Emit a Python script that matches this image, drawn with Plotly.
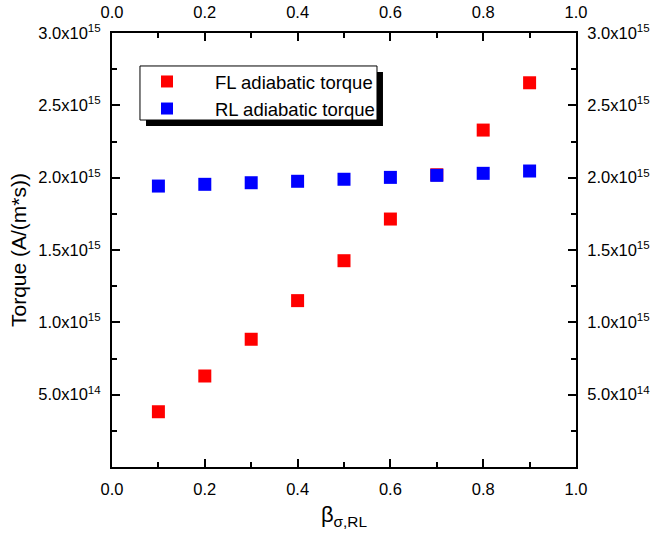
import plotly.graph_objects as go

beta = [0.1, 0.2, 0.3, 0.4, 0.5, 0.6, 0.7, 0.8, 0.9]
fl_torque = [0.382e15, 0.629e15, 0.883e15, 1.150e15, 1.426e15, 1.714e15, 2.020e15, 2.329e15, 2.656e15]
rl_torque = [1.942e15, 1.954e15, 1.965e15, 1.975e15, 1.989e15, 2.002e15, 2.016e15, 2.030e15, 2.046e15]

x_ticks = [0.0, 0.2, 0.4, 0.6, 0.8, 1.0]
x_ticktext = ["0.0", "0.2", "0.4", "0.6", "0.8", "1.0"]
y_ticks = [5e14, 1.0e15, 1.5e15, 2.0e15, 2.5e15, 3.0e15]
y_ticktext = ["5.0x10<sup>14</sup>", "1.0x10<sup>15</sup>", "1.5x10<sup>15</sup>",
              "2.0x10<sup>15</sup>", "2.5x10<sup>15</sup>", "3.0x10<sup>15</sup>"]
y_minor = [2.5e14, 7.5e14, 1.25e15, 1.75e15, 2.25e15, 2.75e15]
x_minor = [0.1, 0.3, 0.5, 0.7, 0.9]

FONT = "Arial, Liberation Sans, sans-serif"

fig = go.Figure()
fig.add_trace(go.Scatter(x=beta, y=fl_torque, mode="markers", name="FL adiabatic torque",
                         marker=dict(symbol="square", size=13, color="#ff0000",
                                     line=dict(width=0))))
fig.add_trace(go.Scatter(x=beta, y=rl_torque, mode="markers", name="RL adiabatic torque",
                         marker=dict(symbol="square", size=13, color="#0000ff",
                                     line=dict(width=0))))
fig.add_trace(go.Scatter(x=beta, y=rl_torque, mode="markers", xaxis="x2", yaxis="y2",
                         showlegend=False, hoverinfo="skip",
                         marker=dict(opacity=0)))

axis_common = dict(showline=True, linecolor="black", linewidth=2, mirror=False,
                   ticks="inside", ticklen=8, tickwidth=1.5, tickcolor="black",
                   showgrid=False, zeroline=False, automargin=False,
                   tickfont=dict(family=FONT, size=16.5, color="black"))

minor_x = dict(ticks="inside", ticklen=5, tickvals=x_minor, tickcolor="black", tickwidth=1.5)
minor_y = dict(ticks="inside", ticklen=5, tickvals=y_minor, tickcolor="black", tickwidth=1.5)

fig.update_layout(
    width=655, height=543,
    margin=dict(l=112, r=79, t=33, b=76),
    paper_bgcolor="white", plot_bgcolor="white",
    font=dict(family=FONT, color="black"),
    xaxis=dict(range=[0, 1], tickmode="array", tickvals=x_ticks, ticktext=x_ticktext,
               minor=minor_x,
               title=dict(text="β<sub>σ,RL</sub>", font=dict(family=FONT, size=22), standoff=10),
               ticklabelstandoff=6,
               **axis_common),
    yaxis=dict(range=[0, 3e15], tickmode="array", tickvals=y_ticks, ticktext=y_ticktext,
               minor=minor_y,
               title=dict(text="Torque (A/(m*s))", font=dict(family=FONT, size=21), standoff=6),
               ticklabelstandoff=6,
               **axis_common),
    xaxis2=dict(range=[0, 1], overlaying="x", side="top", anchor="y2",
                tickmode="array", tickvals=x_ticks, ticktext=x_ticktext,
                minor=minor_x, ticklabelstandoff=6,
                **axis_common),
    yaxis2=dict(range=[0, 3e15], overlaying="y", side="right", anchor="x2",
                tickmode="array", tickvals=y_ticks, ticktext=y_ticktext,
                minor=minor_y, ticklabelstandoff=6,
                **axis_common),
    legend=dict(x=0.0151, y=0.931, xanchor="left", yanchor="top",
                bgcolor="rgba(0,0,0,0)", borderwidth=0,
                font=dict(family=FONT, size=18.5, color="black"),
                itemwidth=86, itemsizing="constant"),
    shapes=[
        dict(type="rect", xref="paper", yref="paper",
             x0=0.0733, x1=0.584, y0=0.7857, y1=0.910,
             fillcolor="black", line=dict(width=0), layer="above"),
        dict(type="rect", xref="paper", yref="paper",
             x0=0.0603, x1=0.5711, y0=0.7995, y1=0.924,
             fillcolor="white", line=dict(width=1, color="black"), layer="above"),
    ],
)

fig.write_html("out.html")
